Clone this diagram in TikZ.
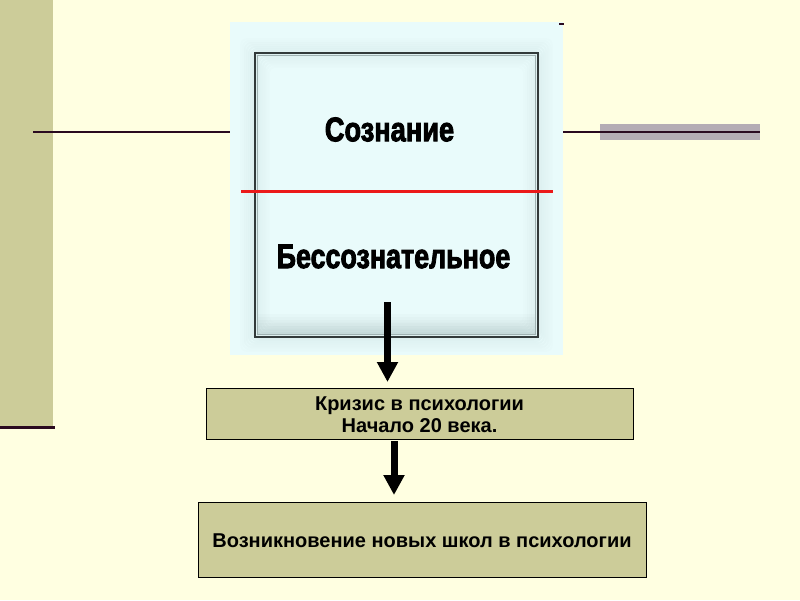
\documentclass[tikz,border=0pt]{standalone}
\usepackage{fontspec}
\usepackage{graphicx}
\setmainfont{Liberation Sans}
\newfontfamily\heavyfont{Liberation Sans Bold}[FakeBold=3]
\usetikzlibrary{arrows.meta}
\definecolor{pagebg}{RGB}{255,255,225}
\definecolor{olive}{RGB}{204,204,153}
\definecolor{darkline}{RGB}{42,10,32}
\definecolor{graybar}{RGB}{180,172,180}
\definecolor{imgbg}{RGB}{233,251,251}
\definecolor{shadowc}{RGB}{120,145,145}
\definecolor{framec}{RGB}{50,58,58}
\definecolor{redline}{RGB}{235,25,25}
\tikzset{
  flowbox/.style={draw=black, line width=0.9pt, fill=olive, inner sep=0pt},
  bigword/.style={inner sep=0pt, font=\heavyfont\fontsize{34}{34}\selectfont},
  fatarrow/.style={line width=7pt, draw=black, -{Triangle[width=20pt,length=20pt]}},
  rule/.style={draw=darkline, line width=2pt}
}
\begin{document}
\begin{tikzpicture}[x=1pt,y=-1pt]
\useasboundingbox (0,0) rectangle (800,600);
\fill[pagebg] (0,0) rectangle (800,600);
% left strip
\fill[olive] (0,0) rectangle (53,427);
\draw[darkline, line width=3pt] (0,427) -- (55,427);
% right gray bar
\fill[graybar] (600,124) rectangle (760,140);
% horizontal rules
\coordinate (lL) at (33,132);
\coordinate (lR) at (230,132);
\coordinate (rL) at (563,132);
\coordinate (rR) at (760,132);
\draw[rule] (lL) -- (lR);
\draw[rule] (rL) -- (rR);
% picture area
\fill[imgbg] (230,22) rectangle (563,355);
\coordinate (dashA) at (559,24);
\coordinate (dashB) at (564,24);
\draw[darkline, line width=1.5pt] (dashA) -- (dashB);
% soft shadow around the frame
\foreach \d in {-14,-12,...,14}{
  \pgfmathsetmacro\op{0.10*(1-abs(\d)/16)}
  \draw[shadowc, line width=2pt, opacity=\op, rounded corners=6pt]
    (255+\d,53+\d) rectangle (538-\d,337-\d);
}
\foreach \k in {0,...,7}{
  \fill[shadowc, opacity=0.035] (257,335-3*\k) rectangle (536,335);
}
% frame
\node[draw=framec, line width=2.8pt, minimum width=283pt, minimum height=284pt, inner sep=0pt] (frame) at (396.5,195) {};
\draw[shadowc!70, line width=1pt] (257.5,55.5) rectangle (535.5,334.5);
% red line
\coordinate (redL) at (241,191);
\coordinate (redR) at (553,191);
\draw[redline, line width=3pt] (redL) -- (redR);
% words
\node[bigword] (soz) at (389.5,129.5) {\scalebox{0.80}[1]{Сознание}};
\node[bigword] (bes) at (393.5,256.5) {\scalebox{0.79}[1]{Бессознательное}};
% boxes
\node[flowbox, minimum width=427pt, minimum height=51pt] (crisis) at (419.5,413.5) {};
\node[font=\bfseries\fontsize{20}{22}\selectfont, align=center, inner sep=0pt] (crisisT) at (419.5,415) {Кризис в психологии\\Начало 20 века.};
\node[flowbox, minimum width=448pt, minimum height=75pt] (schools) at (422,539.5) {};
\node[font=\bfseries\fontsize{20}{22}\selectfont, inner sep=0pt] (schoolsT) at (422,541) {Возникновение новых школ в психологии};
% arrows
\coordinate (a1s) at (387.5,302);
\coordinate (a1e) at (387.5,382);
\draw[fatarrow] (a1s) -- (a1e);
\coordinate (a2s) at (394,441);
\coordinate (a2e) at (394,495);
\draw[fatarrow] (a2s) -- (a2e);
\end{tikzpicture}
\end{document}
